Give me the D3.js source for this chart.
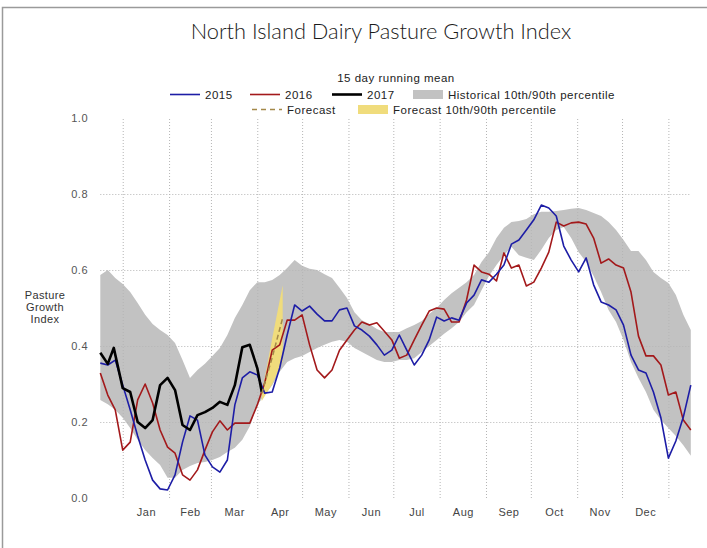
<!DOCTYPE html>
<html>
<head>
<meta charset="utf-8">
<script src="https://cdn.jsdelivr.net/npm/d3@7"></script>
<style>
  body { margin: 0; background: #fff; }
  svg text { font-family: "Liberation Sans", Arial, sans-serif; }
</style>
</head>
<body>
<svg id="chart"></svg>
<script>
// day of year (0 = 1 Jan), the chart runs mid Dec -> mid Jan
const days = [-15, -10, -5, 0, 5, 10, 15, 20, 25, 30, 35, 40, 45, 50, 55, 60, 65, 70, 75, 80,
  85, 90, 95, 100, 105, 110, 115, 120, 125, 130, 135, 140, 145, 150, 155, 160, 165, 170, 175, 180,
  185, 190, 195, 200, 205, 210, 215, 220, 225, 230, 235, 240, 245, 250, 255, 260, 265, 270, 275, 280,
  285, 290, 295, 300, 305, 310, 315, 320, 325, 330, 335, 340, 345, 350, 355, 360, 365, 370, 375, 380];

const histHigh = [0.587, 0.600, 0.579, 0.563, 0.542, 0.513, 0.482, 0.458, 0.442, 0.429, 0.408, 0.363, 0.316, 0.337, 0.353, 0.374, 0.395, 0.429, 0.474, 0.508,
  0.547, 0.568, 0.568, 0.574, 0.587, 0.605, 0.626, 0.611, 0.603, 0.600, 0.589, 0.579, 0.553, 0.526, 0.489, 0.468, 0.458, 0.445, 0.437, 0.437,
  0.437, 0.447, 0.455, 0.466, 0.484, 0.500, 0.521, 0.539, 0.553, 0.568, 0.587, 0.621, 0.647, 0.684, 0.711, 0.726, 0.729, 0.734, 0.747, 0.753,
  0.753, 0.755, 0.758, 0.761, 0.763, 0.758, 0.750, 0.742, 0.726, 0.705, 0.679, 0.650, 0.650, 0.626, 0.595, 0.579, 0.566, 0.534, 0.482, 0.442];

const histLow = [0.258, 0.247, 0.232, 0.211, 0.184, 0.153, 0.126, 0.105, 0.087, 0.053, 0.053, 0.074, 0.084, 0.092, 0.095, 0.100, 0.108, 0.121, 0.132, 0.153,
  0.189, 0.245, 0.271, 0.297, 0.332, 0.358, 0.368, 0.374, 0.384, 0.395, 0.403, 0.411, 0.416, 0.411, 0.395, 0.384, 0.374, 0.363, 0.358, 0.358,
  0.363, 0.363, 0.368, 0.384, 0.400, 0.416, 0.432, 0.447, 0.463, 0.489, 0.508, 0.547, 0.584, 0.613, 0.639, 0.661, 0.639, 0.632, 0.626, 0.653,
  0.684, 0.705, 0.713, 0.684, 0.647, 0.621, 0.584, 0.542, 0.495, 0.463, 0.416, 0.358, 0.316, 0.279, 0.232, 0.205, 0.184, 0.163, 0.139, 0.111];

const y2015 = [0.355, 0.350, 0.363, 0.297, 0.232, 0.163, 0.100, 0.047, 0.024, 0.021, 0.061, 0.147, 0.216, 0.205, 0.113, 0.082, 0.068, 0.100, 0.245, 0.316,
  0.332, 0.324, 0.276, 0.279, 0.342, 0.429, 0.508, 0.492, 0.505, 0.484, 0.466, 0.466, 0.495, 0.500, 0.453, 0.442, 0.426, 0.403, 0.376, 0.389,
  0.429, 0.389, 0.350, 0.376, 0.416, 0.476, 0.466, 0.474, 0.468, 0.513, 0.534, 0.574, 0.568, 0.589, 0.613, 0.668, 0.679, 0.705, 0.732, 0.771,
  0.763, 0.742, 0.663, 0.626, 0.595, 0.632, 0.561, 0.516, 0.508, 0.495, 0.455, 0.376, 0.337, 0.329, 0.279, 0.211, 0.105, 0.150, 0.213, 0.297];

const y2016 = [0.329, 0.271, 0.232, 0.126, 0.147, 0.258, 0.300, 0.250, 0.179, 0.134, 0.118, 0.061, 0.047, 0.074, 0.126, 0.174, 0.203, 0.179, 0.197, 0.197,
  0.197, 0.245, 0.303, 0.389, 0.403, 0.468, 0.468, 0.482, 0.403, 0.337, 0.316, 0.337, 0.389, 0.416, 0.442, 0.463, 0.455, 0.461, 0.439, 0.416,
  0.368, 0.376, 0.416, 0.455, 0.492, 0.500, 0.497, 0.463, 0.463, 0.521, 0.613, 0.595, 0.589, 0.571, 0.645, 0.605, 0.613, 0.558, 0.568, 0.605,
  0.647, 0.726, 0.716, 0.724, 0.726, 0.721, 0.684, 0.618, 0.629, 0.613, 0.605, 0.542, 0.426, 0.374, 0.374, 0.350, 0.271, 0.279, 0.205, 0.179];

const days2017 = [-15, -10, -6, 0, 5, 10, 15, 20, 25, 30, 35, 40, 45, 50, 55, 60, 65, 70, 75, 80, 85, 90, 93];
const y2017 = [0.382, 0.353, 0.395, 0.289, 0.279, 0.200, 0.184, 0.205, 0.297, 0.316, 0.284, 0.192, 0.179, 0.218, 0.226, 0.237, 0.253, 0.245, 0.297, 0.397, 0.403, 0.342, 0.279];

const forecastDays = [93, 100, 107];
const forecastMean = [0.275, 0.370, 0.474];
const forecastLow = [0.255, 0.300, 0.360];
const forecastHigh = [0.275, 0.420, 0.560];

const monthStarts = [0, 31, 59, 90, 120, 151, 181, 212, 243, 273, 304, 334, 365];
const monthNames = ['Jan', 'Feb', 'Mar', 'Apr', 'May', 'Jun', 'Jul', 'Aug', 'Sep', 'Oct', 'Nov', 'Dec'];
const yTicks = [0, 0.2, 0.4, 0.6, 0.8, 1.0];
const yGrid = [0.2, 0.4, 0.6, 0.8];

const svg = d3.select('#chart').attr('width', 707).attr('height', 548);

const x = d3.scaleLinear().domain([-15, 380]).range([100.3, 690.8]);
const y = d3.scaleLinear().domain([0, 1]).range([498, 118]);

// frame (left + top)
svg.append('path')
  .attr('d', 'M2.5,548V7.5H707')
  .attr('fill', 'none')
  .attr('stroke', '#9a9a9a')
  .attr('stroke-width', 1.5);

svg.append('text')
  .attr('x', 381).attr('y', 39)
  .attr('text-anchor', 'middle')
  .style('font-family', 'Lato, "Open Sans", sans-serif')
  .style('font-weight', 300)
  .style('font-size', '21.8px')
  .attr('fill', '#1a1a1a')
  .text('North Island Dairy Pasture Growth Index');

// historical band
const band = d3.area()
  .x(i => x(days[i]))
  .y0(i => y(histLow[i]))
  .y1(i => y(histHigh[i]));
svg.append('path')
  .attr('d', band(d3.range(days.length)))
  .attr('fill', '#c2c2c2');

// grid
const gx = svg.append('g')
  .attr('transform', `translate(0,${y(0)})`)
  .call(d3.axisBottom(x).tickValues(monthStarts).tickSize(-(y(0) - y(1))).tickFormat(''));
gx.select('.domain').remove();
gx.selectAll('line').attr('stroke', '#b5b5b5').attr('stroke-dasharray', '1,2');

const gy = svg.append('g')
  .attr('transform', `translate(${x(-15)},0)`)
  .call(d3.axisLeft(y).tickValues(yGrid).tickSize(-(x(380) - x(-15))).tickFormat(''));
gy.select('.domain').remove();
gy.selectAll('line').attr('stroke', '#b5b5b5').attr('stroke-dasharray', '1,2');

// axis labels
const ay = svg.append('g')
  .attr('transform', 'translate(90,0)')
  .call(d3.axisLeft(y).tickValues(yTicks).tickSize(0).tickPadding(2).tickFormat(d3.format('.1f')));
ay.select('.domain').remove();
ay.selectAll('text').attr('fill', '#555').style('font-size', '11px').style('letter-spacing', '0.5px')
  .style('font-family', '"Liberation Sans", Arial, sans-serif');

const monthMids = monthNames.map((m, i) => (monthStarts[i] + monthStarts[i + 1]) / 2);
const ax = svg.append('g')
  .attr('transform', `translate(0,${y(0)})`)
  .call(d3.axisBottom(x).tickValues(monthMids).tickSize(0).tickPadding(10).tickFormat((d, i) => monthNames[i]));
ax.select('.domain').remove();
ax.selectAll('text').attr('fill', '#444').style('font-size', '11px').style('letter-spacing', '0.5px')
  .style('font-family', '"Liberation Sans", Arial, sans-serif');

svg.append('text')
  .attr('x', 45).attr('y', 299)
  .attr('text-anchor', 'middle')
  .attr('fill', '#333')
  .style('font-size', '11px')
  .style('letter-spacing', '0.4px')
  .selectAll('tspan')
  .data(['Pasture', 'Growth', 'Index'])
  .enter().append('tspan')
  .attr('x', 45)
  .attr('dy', (d, i) => i ? 12 : 0)
  .text(d => d);

// forecast band
const fband = d3.area()
  .x(i => x(forecastDays[i]))
  .y0(i => y(forecastLow[i]))
  .y1(i => y(forecastHigh[i]));
svg.append('path')
  .attr('d', fband(d3.range(forecastDays.length)))
  .attr('fill', '#f0dc7c');

const line = (xs, ys) => d3.line()
  .x(i => x(xs[i]))
  .y(i => y(ys[i]))(d3.range(xs.length));

svg.append('path').attr('d', line(days, y2016))
  .attr('fill', 'none').attr('stroke', '#a3191b').attr('stroke-width', 1.6).attr('stroke-linejoin', 'round');
svg.append('path').attr('d', line(days, y2015))
  .attr('fill', 'none').attr('stroke', '#1d1da6').attr('stroke-width', 1.6).attr('stroke-linejoin', 'round');
svg.append('path').attr('d', line(days2017, y2017))
  .attr('fill', 'none').attr('stroke', '#000').attr('stroke-width', 2.6).attr('stroke-linejoin', 'round');
svg.append('path').attr('d', line(forecastDays, forecastMean))
  .attr('fill', 'none').attr('stroke', '#a4894a').attr('stroke-width', 1.5).attr('stroke-dasharray', '5,3');

// legend
const legend = svg.append('g')
  .style('font-size', '11.5px')
  .style('letter-spacing', '0.5px')
  .attr('fill', '#222');
legend.append('text').attr('x', 396).attr('y', 82).attr('text-anchor', 'middle').text('15 day running mean');

const lineItems = [
  {label: '2015', color: '#1d1da6', w: 1.6, dash: null, x: 170, y: 94.5},
  {label: '2016', color: '#a3191b', w: 1.6, dash: null, x: 250, y: 94.5},
  {label: '2017', color: '#000', w: 2.6, dash: null, x: 332, y: 94.5},
  {label: 'Forecast', color: '#a4894a', w: 1.5, dash: '5,4', x: 252, y: 109.5}
];
lineItems.forEach(d => {
  legend.append('line')
    .attr('x1', d.x).attr('x2', d.x + 30).attr('y1', d.y).attr('y2', d.y)
    .attr('stroke', d.color).attr('stroke-width', d.w).attr('stroke-dasharray', d.dash);
  legend.append('text').attr('x', d.x + 35).attr('y', d.y + 4).text(d.label);
});
const boxItems = [
  {label: 'Historical 10th/90th percentile', color: '#c2c2c2', x: 413, y: 94.5},
  {label: 'Forecast 10th/90th percentile', color: '#f0dc7c', x: 358, y: 109.5}
];
boxItems.forEach(d => {
  legend.append('rect')
    .attr('x', d.x).attr('y', d.y - 4.5).attr('width', 30).attr('height', 9)
    .attr('fill', d.color);
  legend.append('text').attr('x', d.x + 35).attr('y', d.y + 4).text(d.label);
});
</script>
</body>
</html>
